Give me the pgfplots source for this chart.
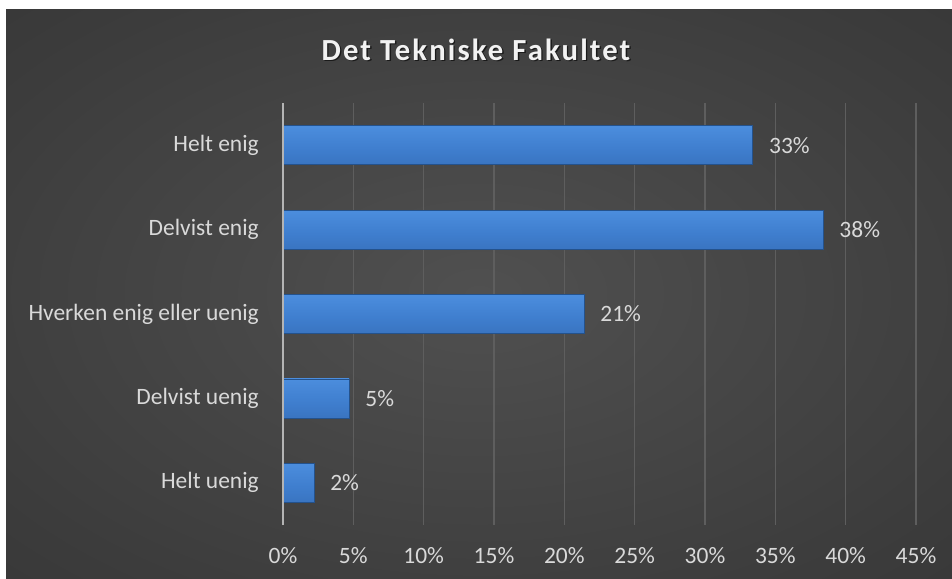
\documentclass[border=0pt]{standalone}
\usepackage{pgfplots}
\pgfplotsset{compat=1.18}
\usepackage{fontspec}
\setmainfont{Carlito}
\newfontfamily\titlefont[LetterSpace=7]{Carlito}
\definecolor{bgin}{HTML}{505050}
\definecolor{bgmid}{HTML}{3C3C3C}
\definecolor{bgout}{HTML}{242424}
\definecolor{gridc}{HTML}{5E5E5E}
\definecolor{axc}{HTML}{B4B4B4}
\definecolor{labc}{HTML}{D9D9D9}
\definecolor{bartop}{HTML}{72B6F8}
\definecolor{barhi}{HTML}{4C8EDE}
\definecolor{barmid}{HTML}{3F7ECE}
\definecolor{barlow}{HTML}{356DB7}
\definecolor{barbot}{HTML}{2A5A99}
\definecolor{baredge}{HTML}{24528C}
\pgfdeclareradialshading{bgshade}{\pgfpoint{0bp}{0bp}}{color(0bp)=(bgin); color(30bp)=(bgmid); color(72bp)=(bgout)}
\pgfdeclareverticalshading{barshade}{100bp}{color(0bp)=(barbot); color(10bp)=(barlow); color(45bp)=(barmid); color(76bp)=(barhi); color(84bp)=(bartop); color(100bp)=(bartop)}
\tikzset{barsty/.style={draw=baredge, line width=0.5pt, shading=barshade}}
\begin{document}
\begin{tikzpicture}
\useasboundingbox (0,0) rectangle (714pt,433.5pt);
\fill[white] (0,0) rectangle (714pt,433.5pt);
\shade[shading=bgshade] (4.5pt,0) rectangle (714pt,426pt);
\begin{axis}[
  at={(212.25pt,39.75pt)}, anchor=south west,
  scale only axis, width=474.75pt, height=316.5pt,
  xmin=0, xmax=45, ymin=-0.5, ymax=4.5,
  xbar, bar width=29.25pt, bar shift=0pt,
  axis line style={draw=none},
  /pgf/number format/assume math mode=true,
  xtick={0,5,...,45},
  xticklabel={\pgfmathprintnumber{\tick}\%},
  ytick={0,1,2,3,4},
  yticklabels={Helt uenig,Delvist uenig,Hverken enig eller uenig,Delvist enig,Helt enig},
  major tick length=0pt,
  xmajorgrids, grid style={color=gridc, line width=1pt},
  tick label style={font=\fontsize{17.6}{20}\selectfont, text=labc, inner sep=0pt},
  xticklabel style={anchor=center, yshift=-23pt},
  yticklabel style={anchor=east, xshift=-18pt},
  nodes near coords={\pgfmathprintnumber[fixed,precision=0]{\pgfplotspointmeta}\%},
  nodes near coords style={anchor=west, inner sep=0pt, xshift=12pt, font=\fontsize{17.6}{20}\selectfont, text=labc},
  clip=false,
]
\addplot[barsty] coordinates {(33.4,4)};
\addplot[barsty] coordinates {(38.4,3)};
\addplot[barsty] coordinates {(21.4,2)};
\addplot[barsty] coordinates {(4.7,1)};
\addplot[barsty] coordinates {(2.2,0)};
\draw[axc, line width=1.8pt] (axis cs:0,-0.5) -- (axis cs:0,4.5);
\end{axis}
\node[text=black, opacity=0.6] at (358pt,395pt) {\titlefont\bfseries\fontsize{23}{26}\selectfont Det Tekniske Fakultet};
\node[text=white!95!black] at (357pt,396pt) {\titlefont\bfseries\fontsize{23}{26}\selectfont Det Tekniske Fakultet};
\end{tikzpicture}
\end{document}
